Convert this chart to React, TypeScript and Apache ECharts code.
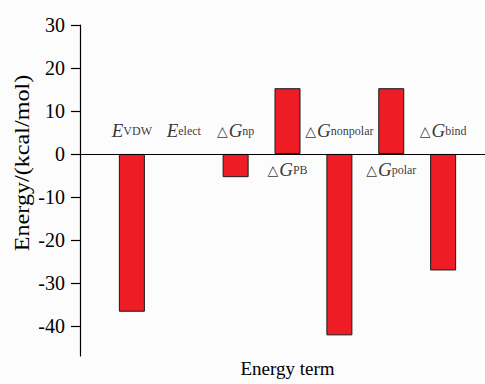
import React, { useEffect, useRef } from "react";
import * as echarts from "echarts";

const termLabels = [
  "{i|E}{s|VDW}",
  "{i|E}{s|elect}",
  "{t|△}{i|G}{s|np}",
  "{t|△}{i|G}{s|PB}",
  "{t|△}{i|G}{s|nonpolar}",
  "{t|△}{i|G}{s|polar}",
  "{t|△}{i|G}{s|bind}",
];
const energyValues = [-36.7, 0, -5.4, 15.3, -42.2, 15.3, -27.1];
const yTickValues = [-40, -30, -20, -10, 0, 10, 20, 30];
const xTitle = "Energy term";
const yTitle = "Energy/(kcal/mol)";

const FONT = "'Liberation Serif', 'Times New Roman', serif";
const LABEL_ABOVE = 5.4;
const LABEL_BELOW = -3.7;

export default function App() {
  const ref = useRef<HTMLDivElement>(null);
  useEffect(() => {
    if (!ref.current) return;
    const chart = echarts.init(ref.current, null, { renderer: "svg" });
    const barData = energyValues.map((v, i) => ({
      value: [i + 1, v],
      itemStyle: v === 0 ? { borderWidth: 0 } : undefined,
    }));
    const labelData = energyValues.map((v, i) => [i + 1, v <= 0 ? LABEL_ABOVE : LABEL_BELOW]);
    chart.setOption({
      animation: false,
      backgroundColor: "#fcfcfc",
      textStyle: { fontFamily: FONT },
      grid: { left: 80, right: 0, top: 25, bottom: 28, containLabel: false, outerBoundsMode: "none" },
      graphic: [
        {
          type: "text",
          x: 22,
          y: 163,
          rotation: Math.PI / 2,
          scaleX: 1.15,
          style: {
            text: yTitle,
            fontFamily: FONT,
            fontSize: 21,
            fill: "#000",
            align: "center",
            verticalAlign: "middle",
          },
          silent: true,
        },
      ],
      xAxis: {
        type: "value",
        min: 0,
        max: 8,
        axisLine: { show: true, lineStyle: { color: "#000", width: 1.2 } },
        axisTick: { show: false },
        axisLabel: { show: false },
        splitLine: { show: false },
        name: xTitle,
        nameLocation: "middle",
        nameGap: 3,
        nameTextStyle: { fontFamily: FONT, fontSize: 19, color: "#000", verticalAlign: "top" },
      },
      yAxis: {
        type: "value",
        min: -47,
        max: 30,
        axisLine: { show: true, lineStyle: { color: "#000", width: 1.2 } },
        axisTick: {
          show: true,
          inside: false,
          length: 9,
          customValues: yTickValues,
          lineStyle: { color: "#000", width: 1.2 },
        },
        axisLabel: {
          show: true,
          customValues: yTickValues,
          margin: 15,
          fontFamily: FONT,
          fontSize: 20,
          color: "#000",
        },
        splitLine: { show: false },
      },
      series: [
        {
          type: "bar",
          data: barData,
          barWidth: 26,
          itemStyle: { color: "#ee1c25", borderColor: "#1a1a1a", borderWidth: 1 },
          markLine: {
            silent: true,
            symbol: "none",
            label: { show: false },
            lineStyle: { color: "#000", type: "solid", width: 1.2 },
            data: [{ yAxis: 0 }],
          },
        },
        {
          type: "scatter",
          data: labelData,
          symbolSize: 1,
          itemStyle: { color: "rgba(0,0,0,0)" },
          silent: true,
          label: {
            show: true,
            position: "inside",
            formatter: (p: any) => termLabels[p.dataIndex],
            rich: {
              i: { fontFamily: FONT, fontStyle: "italic", fontSize: 19, color: "#000" },
              s: { fontFamily: FONT, fontSize: 12, color: "#000" },
              t: { fontFamily: "'DejaVu Sans'", fontSize: 14, color: "#000", padding: [0, 1, 0, 0] },
            },
          },
        },
      ],
    });
    return () => chart.dispose();
  }, []);
  return (
    <div style={{ position: "fixed", left: 0, top: 0, width: 485, height: 384, overflow: "hidden" }}>
      <div ref={ref} style={{ width: 495, height: 384 }} />
    </div>
  );
}
